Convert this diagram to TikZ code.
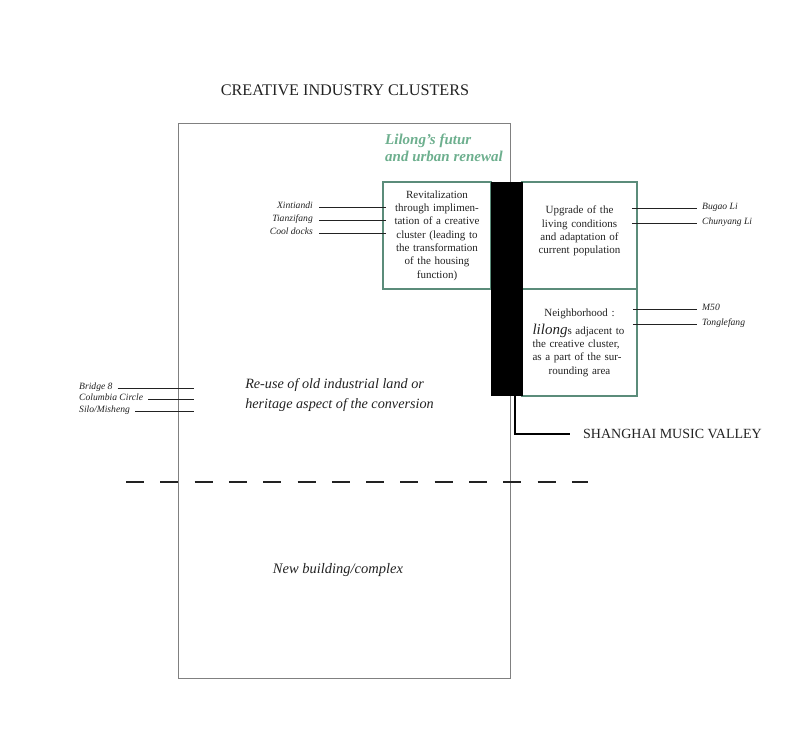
\documentclass[tikz,border=0pt]{standalone}
\usepackage{fontspec}
\setmainfont{Liberation Serif}
\usetikzlibrary{calc}
\definecolor{sage}{HTML}{5B8C7A}
\definecolor{mint}{HTML}{6DAF8E}
\definecolor{ink}{HTML}{222222}

\begin{document}
\begin{tikzpicture}[x=1pt, y=-1pt,
    box/.style={draw=sage, line width=1.5pt, inner sep=0pt, align=center, font=\fontsize{11}{13.3}\selectfont, text=ink},
    tag/.style={font=\fontsize{9.6}{12}\selectfont\itshape, text=ink, inner sep=0pt},
    leader/.style={draw=ink, line width=0.7pt}]
    \useasboundingbox (0,0) rectangle (800,733);

    % Site outline and the cut line
    \node[draw=gray, line width=0.8pt, minimum width=332pt, minimum height=555pt, inner sep=0pt] (site) at (344,400.5) {};
    \draw[ink, line width=1.3pt, dash pattern=on 18pt off 16.3pt] (126,482) -- (588,482);

    % Titles
    \node[font=\fontsize{16.2}{20}\selectfont, text=ink] (title) at (345,90) {CREATIVE INDUSTRY CLUSTERS};
    \node[anchor=north west, align=left, inner sep=0pt, text=mint, font=\fontsize{15}{17.5}\selectfont\bfseries\itshape] (future) at (385,133.5) {Lilong’s futur\\and urban renewal};

    % The three boxes and the black bar
    \node[box, minimum width=108pt, minimum height=107pt, text width=92pt] (revit) at (437,235.5) {Revitalization\\through implimen-\\tation of a creative\\cluster (leading to\\the transformation\\of the housing\\function)};
    \node[box, minimum width=115pt, minimum height=107pt, text width=100pt] (upgrade) at (579.5,235.5) {Upgrade of the\\living conditions\\and adaptation of\\current population\\[-2pt]\mbox{}};
    \node[box, minimum width=115pt, minimum height=107pt, text width=100pt] (hood) at (579.5,342.5) {Neighborhood :\\[5pt]\makebox[94pt][s]{{\fontsize{15}{15}\selectfont\itshape lilong}s adjacent to}\\\makebox[94pt][s]{the creative cluster,}\\\makebox[94pt][s]{as a part of the sur-}\\rounding area};
    \node[fill=black, minimum width=32pt, minimum height=214pt, inner sep=0pt] (bar) at (506.5,289) {};

    % Music valley
    \node[anchor=west, inner sep=0pt, font=\fontsize{14}{16}\selectfont, text=ink] (valley) at (583,434) {SHANGHAI MUSIC VALLEY};
    \draw[black, line width=1.6pt] ([xshift=-8pt]bar.south east) |- ([xshift=-13pt]valley.west);

    % Examples
    \foreach \id/\txt/\y in {xin/Xintiandi/208, tia/Tianzifang/221, coo/Cool docks/234} {
        \node[tag, anchor=base east] (\id) at (313,\y) {\txt};
        \draw[leader] ([xshift=6pt,yshift=1pt]\id.base east) -- ($(\id.base east -| revit.west)+(4,-1)$);
    }
    \foreach \id/\txt/\y in {bug/Bugao Li/209, chu/Chunyang Li/224} {
        \node[tag, anchor=base west] (\id) at (702,\y) {\txt};
        \draw[leader] ($(\id.base west -| upgrade.east)+(-6,-1)$) -- ([xshift=-5pt,yshift=1pt]\id.base west);
    }
    \foreach \id/\txt/\y in {m50/M50/310, ton/Tonglefang/325} {
        \node[tag, anchor=base west] (\id) at (702,\y) {\txt};
        \draw[leader] ($(\id.base west -| hood.east)+(-5,-1)$) -- ([xshift=-5pt,yshift=1pt]\id.base west);
    }
    \foreach \id/\txt/\y in {bri/Bridge 8/389, col/Columbia Circle/400, sil/{Silo/Misheng}/412} {
        \node[tag, anchor=base west] (\id) at (79,\y) {\txt};
        \draw[leader] ([xshift=5pt,yshift=1pt]\id.base east) -- ($(\id.base east -| site.west)+(16,-1)$);
    }

    % Land use texts
    \node[align=left, font=\fontsize{14.2}{20}\selectfont\itshape, text=ink] (reuse) at (339.5,395) {Re-use of old industrial land or\\heritage aspect of the conversion};
    \node[font=\fontsize{14.5}{18}\selectfont\itshape, text=ink] (newbuild) at (338,570) {New building/complex};
\end{tikzpicture}
\end{document}
